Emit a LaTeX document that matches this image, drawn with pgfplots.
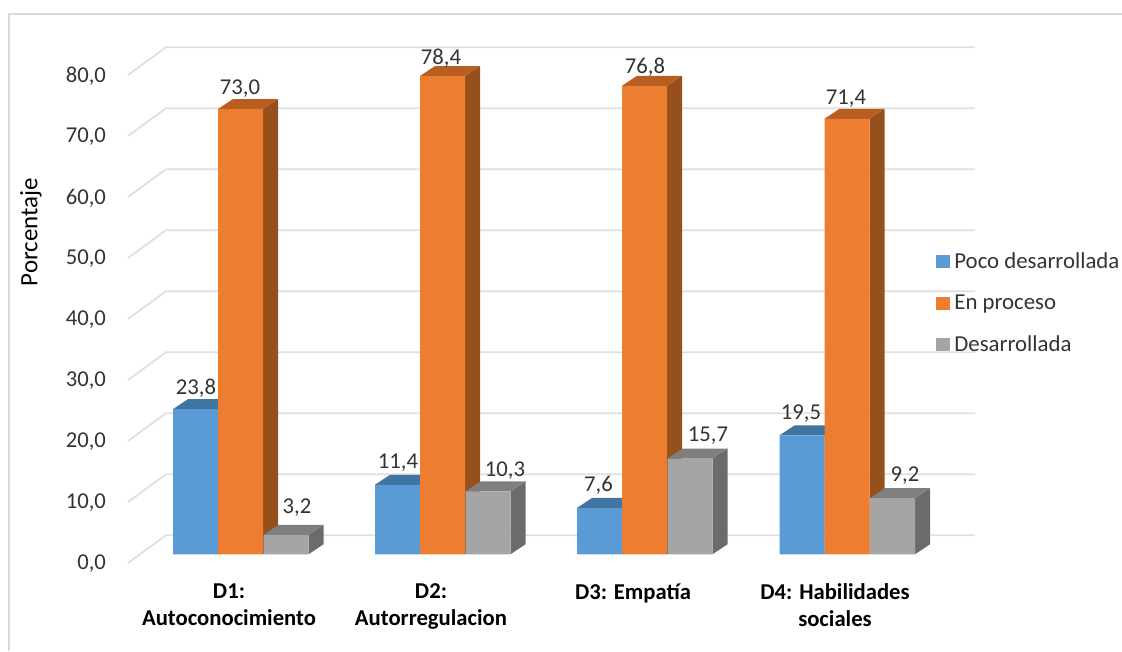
\documentclass[border=0pt]{standalone}
\usepackage{pgfplots}
\pgfplotsset{compat=1.18}
\usepackage{fontspec}
\setmainfont{Carlito}
\definecolor{cblue}{HTML}{5B9BD5}
\definecolor{cbluet}{HTML}{41749F}
\definecolor{corange}{HTML}{ED7D31}
\definecolor{coranget}{HTML}{B85E20}
\definecolor{corangesd}{HTML}{95501C}
\definecolor{cgray}{HTML}{A5A5A5}
\definecolor{cgrayt}{HTML}{7F7F7F}
\definecolor{cgraysd}{HTML}{6B6B6B}
\definecolor{cgrid}{HTML}{E0E0E0}
\definecolor{cframe}{HTML}{DADADA}
\definecolor{ctext}{HTML}{333333}
\newcommand{\fs}{\fontsize{17}{20}\selectfont}
% depth faces of one 3D bar: left x, value, side colour, top colour
\newcommand{\depthfaces}[4]{%
  \pgfmathsetmacro\xb{#1+45}\pgfmathsetmacro\xc{#1+60}\pgfmathsetmacro\xd{#1+15}%
  \pgfmathsetmacro\yt{#2+1.64}%
  \edef\tmp{\noexpand\addplot[fill=#3,draw=none,forget plot] coordinates {(\xb,0)(\xc,1.64)(\xc,\yt)(\xb,#2)};
  \noexpand\addplot[fill=#4,draw=none,forget plot] coordinates {(#1,#2)(\xd,\yt)(\xc,\yt)(\xb,#2)};}\tmp}
\newcommand{\gridln}[2]{\addplot[cgrid,line width=1.4pt,forget plot] coordinates {(128,#1)(166,#2)(975,#2)};}
\newcommand{\vallab}[3]{\node[text=ctext,font=\fs,inner sep=0pt] at (axis cs:#1,#2) {#3};}
\pgfplotsset{frontbar/.style={ybar,bar width=33.75pt,bar shift=0pt,fill=#1,draw=none,
  legend image code/.code={\fill[#1] (0pt,-4.9pt) rectangle (10.5pt,4.9pt);\path (12.6pt,0pt);}}}
\begin{document}
\begin{tikzpicture}
\begin{axis}[
  width=841.5pt,height=488.25pt,scale only axis,
  xmin=0,xmax=1122,ymin=-15.85,ymax=90.87,clip=false,
  axis line style={draw=none},major tick length=0pt,
  ytick={0,10,20,30,40,50,60,70,80},
  xtick={229,431,633,835},
  xticklabels={{D1:\\Autoconocimiento},{D2:\\Autorregulacion},{D3: Empatía},{D4: Habilidades\\sociales}},
  x tick label style={font=\fs\bfseries,align=center,anchor=north,yshift=54pt,text=black},
  y tick label style={font=\fs,text=ctext,anchor=east,xshift=83pt,yshift=-7.2pt,
    /pgf/number format/.cd,fixed,fixed zerofill,precision=1,use comma,assume math mode=true},
  ylabel={Porcentaje},
  y label style={at={(axis description cs:0.0276,0.6436)},anchor=center,font=\fontsize{18.7}{22}\selectfont,text=black},
  legend style={at={(axis cs:936,49.65)},anchor=north west,draw=none,fill=none,font=\fontsize{17.1}{20}\selectfont,text=ctext,
    row sep=16pt,inner sep=0pt,nodes={inner sep=1pt}},
  legend cell align=left,
]
\draw[cframe,line width=1.5pt] (axis cs:9,-15.85) -- (axis cs:9,88.5) -- (axis cs:1122,88.5);
\gridln{-1.43}{3.13}\gridln{8.57}{13.13}\gridln{18.57}{23.13}\gridln{28.57}{33.13}
\gridln{38.57}{43.13}\gridln{48.57}{53.13}\gridln{58.57}{63.13}\gridln{68.57}{73.13}\gridln{78.57}{83.13}
% Poco desarrollada
\depthfaces{173}{23.8}{cbluet}{cbluet}\depthfaces{375}{11.4}{cbluet}{cbluet}
\depthfaces{577}{7.6}{cbluet}{cbluet}\depthfaces{779.5}{19.5}{cbluet}{cbluet}
\addplot[frontbar=cblue] coordinates {(195.5,23.8)(397.5,11.4)(599.5,7.6)(802,19.5)};
\addlegendentry{Poco desarrollada}
% En proceso
\depthfaces{218}{73.0}{corangesd}{coranget}\depthfaces{420}{78.4}{corangesd}{coranget}
\depthfaces{622}{76.8}{corangesd}{coranget}\depthfaces{824.5}{71.4}{corangesd}{coranget}
\addplot[frontbar=corange] coordinates {(240.5,73.0)(442.5,78.4)(644.5,76.8)(847,71.4)};
\addlegendentry{En proceso}
% Desarrollada
\depthfaces{263.5}{3.2}{cgraysd}{cgrayt}\depthfaces{465.5}{10.3}{cgraysd}{cgrayt}
\depthfaces{667.5}{15.7}{cgraysd}{cgrayt}\depthfaces{870}{9.2}{cgraysd}{cgrayt}
\addplot[frontbar=cgray] coordinates {(286,3.2)(488,10.3)(690,15.7)(892.5,9.2)};
\addlegendentry{Desarrollada}
% value labels
\vallab{196}{27.3}{23,8}\vallab{240}{76.4}{73,0}\vallab{297}{7.6}{3,2}
\vallab{398}{15.1}{11,4}\vallab{441}{81.3}{78,4}\vallab{505}{13.8}{10,3}
\vallab{598.5}{11.3}{7,6}\vallab{645}{79.9}{76,8}\vallab{708}{19.5}{15,7}
\vallab{801}{23.1}{19,5}\vallab{846}{74.7}{71,4}\vallab{905}{12.9}{9,2}
\end{axis}
\pgfresetboundingbox
\path[use as bounding box] (0,0) rectangle (841.5pt,488.25pt);
\end{tikzpicture}
\end{document}
